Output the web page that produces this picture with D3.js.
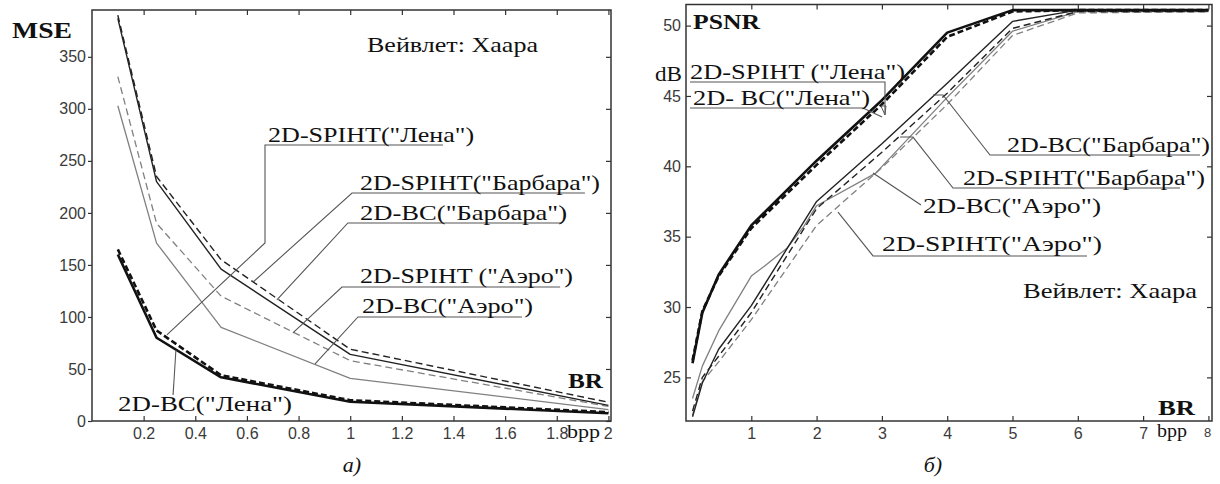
<!DOCTYPE html>
<html><head><meta charset="utf-8">
<script src="https://cdn.jsdelivr.net/npm/d3@7"></script>
<style>body{margin:0;background:#fff}</style>
</head><body><svg id="c" width="1220" height="484"></svg>
<script>
// ---------- DATA ----------
// Panel а) MSE vs BR (bpp)
const mseX = [0.1, 0.25, 0.5, 1, 2];
const mseBCLena      = [160, 80, 42, 18.5, 7.5];
const mseSPIHTLena   = [165, 87, 44, 20, 8.5];
const mseBCBarbara   = [387, 230, 146, 64, 15];
const mseSPIHTBarbara= [390, 235, 155, 69, 18];
const mseBCAero      = [303, 171, 90, 41, 11];
const mseSPIHTAero   = [331, 190, 120, 58, 14];
const mseXTicks = [0.2, 0.4, 0.6, 0.8, 1, 1.2, 1.4, 1.6, 1.8, 2];
const mseYTicks = [0, 50, 100, 150, 200, 250, 300, 350];

// Panel б) PSNR vs BR (bpp)
const psnrX = [0.1, 0.25, 0.5, 1, 2, 3, 4, 5, 6, 8];
const psnrBCLena       = [26.0, 29.6, 32.3, 35.8, 40.4, 44.7, 49.5, 51.1, 51.1, 51.1];
const psnrSPIHTLena    = [26.2, 29.7, 32.2, 35.6, 40.1, 44.4, 49.2, 51.0, 51.1, 51.1];
const psnrBCBarbara    = [22.2, 24.6, 27.0, 30.1, 37.5, 41.6, 45.9, 50.3, 51.1, 51.1];
const psnrSPIHTBarbara = [22.6, 25.0, 26.5, 29.6, 37.0, 41.0, 45.2, 49.8, 51.0, 51.0];
const psnrSPIHTAero    = [22.3, 24.7, 26.1, 29.1, 35.8, 39.9, 44.4, 49.3, 50.9, 51.0];
const psnrXAeroBC      = [0.1, 0.25, 0.5, 1, 1.2, 1.55, 1.8, 2, 2.9, 4, 5, 6, 8];
const psnrBCAero       = [23.5, 25.8, 28.3, 32.2, 32.9, 34.2, 35.7, 37.2, 39.5, 44.9, 49.6, 51.0, 51.0];
const psnrXTicks = [1, 2, 3, 4, 5, 6, 7, 8];
const psnrYTicks = [25, 30, 35, 40, 45, 50];

// Annotation anchors (in data units of each panel)
const leadersL = [
  [[0.290,82.7],[0.670,171.1],[0.670,265.3],[1.359,265.3]],
  [[0.624,133.6],[1.007,219.1],[1.909,219.1]],
  [[0.716,116.3],[0.991,190.3],[1.820,190.3]],
  [[0.778,84.6],[0.968,128.8],[1.813,128.8]],
  [[0.864,54.8],[1.030,100.0],[1.665,100.0]],
  [[0.325,68.2],[0.314,25.0]]
];
const labelsL = [
  {t:'2D-SPIHT("Лена")',    x:0.682, y:268.1, w:206},
  {t:'2D-SPIHT("Барбара")', x:1.038, y:222.0, w:240},
  {t:'2D-BC("Барбара")',    x:1.038, y:193.2, w:207},
  {t:'2D-SPIHT ("Аэро")',   x:1.038, y:132.6, w:213},
  {t:'2D-BC("Аэро")',       x:1.046, y:103.8, w:171},
  {t:'2D-BC("Лена")',       x:0.101, y:9.6,   w:174}
];
const leadersR = [
  [[0.061,45.99],[3.047,45.99],[3.047,43.65]],
  [[0.061,44.14],[2.711,44.14],[3.002,43.51]],
  [[3.783,45.07],[3.936,45.07],[4.655,40.80],[7.871,40.80]],
  [[3.277,42.08],[3.476,42.08],[4.089,38.46],[7.565,38.46]],
  [[2.864,39.53],[3.599,37.25]],
  [[2.328,36.75],[2.864,33.63],[6.141,33.63]]
];
const labelsR = [
  {t:'2D-SPIHT ("Лена")',   x:0.061, y:46.21, w:215},
  {t:'2D- BC("Лена")',      x:0.107, y:44.36, w:177},
  {t:'2D-BC("Барбара")',    x:4.916, y:41.02, w:203},
  {t:'2D-SPIHT("Барбара")', x:4.242, y:38.67, w:242},
  {t:'2D-BC("Аэро")',       x:3.629, y:36.68, w:178},
  {t:'2D-SPIHT("Аэро")',    x:3.001, y:33.98, w:220}
];

// ---------- DRAW ----------
const svg = d3.select('#c');
svg.append('rect').attr('width',1220).attr('height',484).attr('fill','#fff');
const SERIF = '"Liberation Serif","Times New Roman",serif';
const SANS = '"Liberation Sans",Arial,sans-serif';

const L = {x0:92, x1:611, y0:10, y1:421};
const R = {x0:686, x1:1212, y0:4.5, y1:421};
const xL = d3.scaleLinear().domain([0, 2.01]).range([L.x0, L.x1]);
const yL = d3.scaleLinear().domain([0, 395]).range([L.y1, L.y0]);
const xR = d3.scaleLinear().domain([0, 8.055]).range([R.x0, R.x1]);
const yR = d3.scaleLinear().domain([21.9, 51.5]).range([R.y1, R.y0]);

const styles = {
  thickSolid: {stroke:'#111', w:2.6, dash:null},
  thickDash:  {stroke:'#111', w:2.6, dash:'6,3'},
  blackSolid: {stroke:'#222', w:1.4, dash:null},
  blackDash:  {stroke:'#222', w:1.4, dash:'7,4'},
  graySolid:  {stroke:'#808080', w:1.3, dash:null},
  grayDash:   {stroke:'#808080', w:1.3, dash:'7,4'}
};

function drawSeries(xs, ys, sx, sy, st){
  const line = d3.line().x(d=>sx(d[0])).y(d=>sy(d[1]));
  const pts = xs.map((x,i)=>[x, ys[i]]);
  const s = styles[st];
  svg.append('path').attr('d', line(pts)).attr('fill','none')
    .attr('stroke', s.stroke).attr('stroke-width', s.w)
    .attr('stroke-dasharray', s.dash).attr('stroke-linejoin','round');
}

function axes(P, sx, sy, xt, yt, opts){
  const gb = svg.append('g').attr('transform',`translate(0,${P.y1})`)
    .call(d3.axisBottom(sx).tickValues(xt).tickSize(-5).tickPadding(7).tickFormat(opts.xfmt));
  const gt = svg.append('g').attr('transform',`translate(0,${P.y0})`)
    .call(d3.axisTop(sx).tickValues(xt).tickSize(-5).tickFormat(''));
  const gl = svg.append('g').attr('transform',`translate(${P.x0},0)`)
    .call(d3.axisLeft(sy).tickValues(yt).tickSize(opts.ytick).tickPadding(opts.ypad).tickFormat(d=>String(d)));
  const gr = svg.append('g').attr('transform',`translate(${P.x1},0)`)
    .call(d3.axisRight(sy).tickValues(yt).tickSize(-5).tickFormat(''));
  [gb,gt,gl,gr].forEach(g=>{
    g.select('.domain').remove();
    g.selectAll('line').attr('stroke','#333').attr('stroke-width',1.2);
    g.selectAll('text').attr('fill','#3a3a3a').style('font-family',SANS).style('font-size', opts.fs+'px');
  });
  svg.append('rect').attr('x',P.x0).attr('y',P.y0).attr('width',P.x1-P.x0).attr('height',P.y1-P.y0)
    .attr('fill','none').attr('stroke','#333').attr('stroke-width',1.5);
  return gb;
}

function text(t, x, y, o={}){
  const el = svg.append('text').attr('x',x).attr('y',y).text(t)
    .style('font-family', SERIF).style('font-size',(o.fs||21)+'px')
    .attr('fill', o.fill||'#111');
  if(o.bold) el.style('font-weight','bold');
  if(o.italic) el.style('font-style','italic');
  if(o.anchor) el.attr('text-anchor', o.anchor);
  if(o.w) el.attr('textLength', o.w).attr('lengthAdjust','spacingAndGlyphs');
  return el;
}

// ---- Panel а)
const gbL = axes(L, xL, yL, mseXTicks, mseYTicks, {xfmt:d=>String(d), ytick:4, ypad:2, fs:16});
gbL.selectAll('.tick text').filter(d=>d===2).attr('dx','-0.05em');
drawSeries(mseX, mseSPIHTAero, xL, yL, 'grayDash');
drawSeries(mseX, mseBCAero, xL, yL, 'graySolid');
drawSeries(mseX, mseBCBarbara, xL, yL, 'blackSolid');
drawSeries(mseX, mseSPIHTBarbara, xL, yL, 'blackDash');
drawSeries(mseX, mseBCLena, xL, yL, 'thickSolid');
drawSeries(mseX, mseSPIHTLena, xL, yL, 'thickDash');

const lead = (sx, sy) => d3.line().x(d=>sx(d[0])).y(d=>sy(d[1]));
leadersL.forEach(p=>svg.append('path').attr('d', lead(xL,yL)(p)).attr('fill','none')
  .attr('stroke','#555').attr('stroke-width',1.1));
labelsL.forEach(l=>text(l.t, xL(l.x), yL(l.y), {w:l.w}));

text('MSE', 12, 38, {bold:true, fs:23, w:60});
text('Вейвлет: Хаара', 367, 52, {w:171});
text('BR', 568, 388, {bold:true, fs:21, w:35});
text('bpp', 567, 438, {fs:18, w:33});
text('а)', 352, 472, {italic:true, fs:22, anchor:'middle'});

// ---- Panel б)
const gbR = axes(R, xR, yR, psnrXTicks, psnrYTicks, {xfmt:d=>String(d), ytick:-5, ypad:5, fs:16});
gbR.selectAll('.tick text').filter(d=>d===8).style('font-size','13px').attr('dx','-0.1em');
drawSeries(psnrX, psnrSPIHTAero, xR, yR, 'grayDash');
drawSeries(psnrXAeroBC, psnrBCAero, xR, yR, 'graySolid');
drawSeries(psnrX, psnrSPIHTBarbara, xR, yR, 'blackDash');
drawSeries(psnrX, psnrBCBarbara, xR, yR, 'blackSolid');
drawSeries(psnrX, psnrBCLena, xR, yR, 'thickSolid');
drawSeries(psnrX, psnrSPIHTLena, xR, yR, 'thickDash');

leadersR.forEach(p=>svg.append('path').attr('d', lead(xR,yR)(p)).attr('fill','none')
  .attr('stroke','#555').attr('stroke-width',1.1));
// small arrow head at the end of the first leader
{
  const p = leadersR[0][leadersR[0].length-1];
  const ax = xR(p[0]), ay = yR(p[1]);
  svg.append('path').attr('d',`M${ax-4},${ay-9}L${ax+1},${ay-9}L${ax},${ay}Z`)
    .attr('fill','none').attr('stroke','#555').attr('stroke-width',1);
}
labelsR.forEach(l=>text(l.t, xR(l.x), yR(l.y), {w:l.w}));

text('PSNR', 693, 29, {bold:true, fs:21, w:67});
text('dB', 655, 81, {fs:21, w:27});
text('Вейвлет: Хаара', 1023, 298, {w:174});
text('BR', 1158, 415, {bold:true, fs:21, w:37});
text('bpp', 1157, 437, {fs:18, w:30});
text('б)', 933, 472, {italic:true, fs:22, anchor:'middle'});
</script></body></html>
